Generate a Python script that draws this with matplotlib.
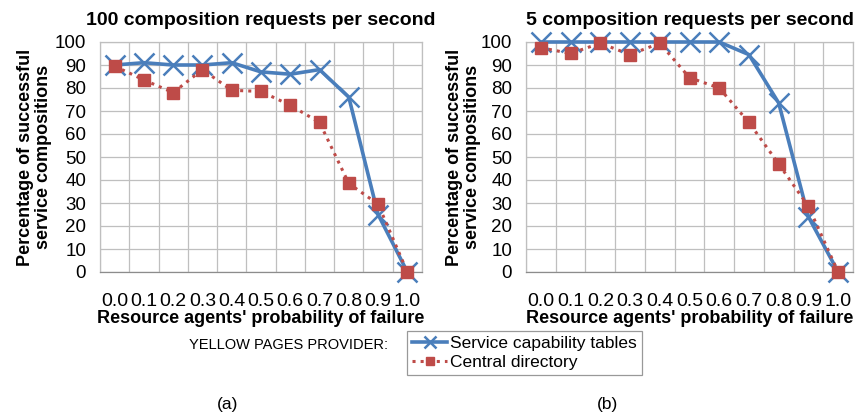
import matplotlib.pyplot as plt
import numpy as np

plt.rcParams["font.family"] = ["Liberation Sans", "DejaVu Sans"]

# x categories (probability of failure)
probs = ["0.0", "0.1", "0.2", "0.3", "0.4", "0.5", "0.6", "0.7", "0.8", "0.9", "1.0"]

# (a) 100 composition requests per second
tables_100 = [90, 91, 90, 90, 91, 87, 86, 88, 76, 25, 0]
central_100 = [89.5, 83.5, 78, 88, 79, 78.5, 72.5, 65, 38.5, 29.5, 0]

# (b) 5 composition requests per second
tables_5 = [100, 100, 100, 100, 100, 100, 100, 94.5, 73.5, 24, 0]
central_5 = [97.5, 95, 99.5, 94.5, 99.5, 84.5, 80, 65, 47, 28.5, 0]

titles = ["100 composition requests per second", "5 composition requests per second"]
panel_tags = ["(a)", "(b)"]

blue = "#4a7ebb"
red = "#be4b48"
W, H = 865, 420

fig = plt.figure(figsize=(W / 100, H / 100), dpi=100)

# axes boxes in pixels: left, top, right, bottom
boxes = [(100, 42, 422, 272), (526, 42, 853, 272)]
ylabel_right = [52, 481]  # pixel x of the right edge of the y label block
data = [(tables_100, central_100), (tables_5, central_5)]

x = np.arange(len(probs))
for k, (l, t, r, b) in enumerate(boxes):
    ax = fig.add_axes([l / W, 1 - b / H, (r - l) / W, (b - t) / H])
    s1, s2 = data[k]
    ln1, = ax.plot(x, s1, color=blue, lw=2.6, marker="x", ms=14, mew=1.8,
                   label="Service capability tables", zorder=3, clip_on=False)
    ln2, = ax.plot(x, s2, color=red, lw=2.2, ls=":", marker="s", ms=9,
                   label="Central directory", zorder=4, clip_on=False)
    ax.set_xlim(-0.5, len(probs) - 0.5)
    ax.set_ylim(0, 100)
    ax.set_xticks(x)
    ax.set_xticklabels(probs, fontsize=14)
    ax.set_xticks(np.arange(-0.5, len(probs)), minor=True)
    ax.set_yticks(np.arange(0, 101, 10))
    ax.tick_params(axis="y", labelsize=13.5, length=0, pad=10)
    ax.tick_params(axis="x", which="both", length=0, pad=15)
    ax.grid(True, which="minor", axis="x", color="#bfbfbf", lw=0.9)
    ax.grid(True, which="major", axis="y", color="#bfbfbf", lw=0.9)
    for s in ax.spines.values():
        s.set_color("#bfbfbf")
        s.set_linewidth(0.9)
    ax.spines["bottom"].set_color("#8c8c8c")
    ax.set_axisbelow(True)
    ax.set_title(titles[k], fontsize=14, fontweight="bold", pad=12)
    ax.set_xlabel("Resource agents' probability of failure", fontsize=13,
                  fontweight="bold", labelpad=0)
    ax.set_ylabel("Percentage of successful\nservice compositions", fontsize=13,
                  fontweight="bold", linespacing=1.1)
    ax.yaxis.set_label_coords((ylabel_right[k] - l) / (r - l), 0.5)

fig.text(388 / W, 1 - 345 / H, "YELLOW PAGES PROVIDER:", fontsize=10.5,
         ha="right", va="center")
leg = fig.legend(handles=[ln1, ln2], loc="upper left",
                 bbox_to_anchor=(407 / W, 1 - 331 / H), fontsize=12.5,
                 frameon=True, fancybox=False, handlelength=2.0,
                 handletextpad=0.2, borderpad=0.3, labelspacing=0.2,
                 borderaxespad=0, markerscale=0.6)
leg.get_frame().set_edgecolor("#808080")
leg.get_frame().set_linewidth(0.9)

fig.text(228 / W, 1 - 405 / H, panel_tags[0], fontsize=12.5, ha="center", va="center")
fig.text(608 / W, 1 - 405 / H, panel_tags[1], fontsize=12.5, ha="center", va="center")

fig.savefig("out.png", dpi=100)
